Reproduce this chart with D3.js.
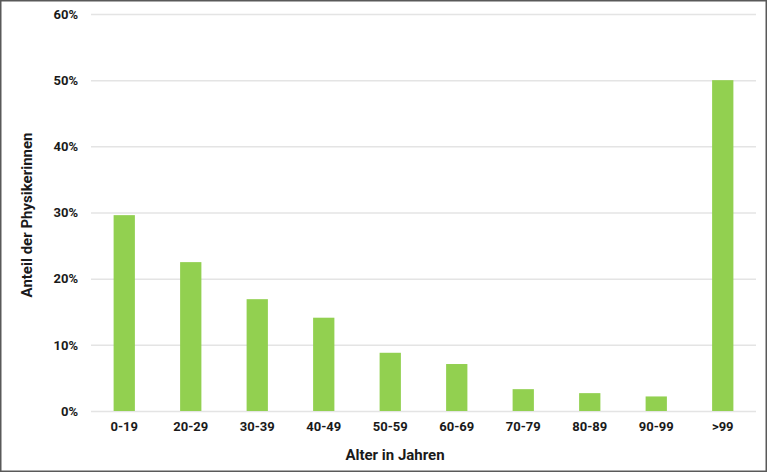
<!DOCTYPE html>
<html><head><meta charset="utf-8">
<script src="https://cdn.jsdelivr.net/npm/d3@7"></script>
<style>
html,body{margin:0;padding:0;background:#fff;}
svg text{font-family:'Roboto', sans-serif !important;font-weight:700;}
</style></head>
<body>
<script>
const categories = ["0-19","20-29","30-39","40-49","50-59","60-69","70-79","80-89","90-99",">99"];
const values = [29.6, 22.5, 16.9, 14.1, 8.8, 7.1, 3.3, 2.7, 2.2, 50];
const yTicks = [0, 10, 20, 30, 40, 50, 60];
const xTitle = "Alter in Jahren";
const yTitle = "Anteil der Physikerinnen";

const W = 768, H = 473;
const m = {left: 91, right: 12, top: 14, bottom: 62};
const FONT = "Roboto";
const svg = d3.select("body").append("svg").attr("width", W).attr("height", H);

svg.append("rect").attr("x", 0.75).attr("y", 0.75).attr("width", W - 2.5).attr("height", H - 2.5)
  .attr("fill", "#fff").attr("stroke", "#595959").attr("stroke-width", 1.5);

const x = d3.scaleBand().domain(categories).range([m.left, W - m.right]).paddingInner(0.68).paddingOuter(0.34);
const y = d3.scaleLinear().domain([0, 60]).range([H - m.bottom, m.top]);

const yAxis = svg.append("g").attr("transform", `translate(${m.left},0)`)
  .call(d3.axisLeft(y).tickValues(yTicks).tickFormat(d => d + "%").tickSize(-(W - m.right - m.left)).tickPadding(13));
yAxis.attr("font-family", FONT);
yAxis.select(".domain").remove();
yAxis.selectAll(".tick line").attr("stroke", "#e4e4e4").attr("stroke-width", 1.5);
yAxis.selectAll(".tick text").attr("font-size", 13).attr("font-weight", "bold").attr("font-family", FONT).attr("fill", "#1a1a1a");

svg.append("g").selectAll("rect").data(values).join("rect")
  .attr("x", (d, i) => x(categories[i]))
  .attr("width", x.bandwidth())
  .attr("y", d => y(d))
  .attr("height", d => y(0) - y(d))
  .attr("fill", "#92d050");

const xAxis = svg.append("g").attr("transform", `translate(0,${H - m.bottom})`)
  .call(d3.axisBottom(x).tickSize(0).tickPadding(11));
xAxis.attr("font-family", FONT);
xAxis.select(".domain").remove();
xAxis.selectAll(".tick text").attr("font-size", 13).attr("font-weight", "bold").attr("font-family", FONT).attr("fill", "#1a1a1a");

svg.append("text").attr("x", 395).attr("y", 460).attr("text-anchor", "middle").attr("font-family", FONT)
  .attr("font-size", 15).attr("font-weight", "bold").attr("fill", "#1a1a1a").text(xTitle);
svg.append("text").attr("transform", "translate(32,215) rotate(-90)").attr("text-anchor", "middle").attr("font-family", FONT)
  .attr("font-size", 15).attr("font-weight", "bold").attr("fill", "#1a1a1a").text(yTitle);
</script>
</body></html>
